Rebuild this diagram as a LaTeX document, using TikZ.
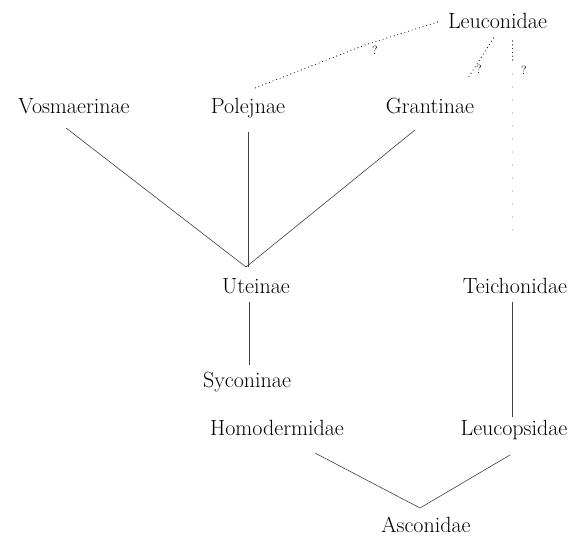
\documentclass[tikz,border=0pt]{standalone}
\usetikzlibrary{calc}
\begin{document}
\begin{tikzpicture}[x=1pt,y=-1pt,
  lbl/.style={anchor=base,inner sep=0pt,font=\fontsize{22}{26}\selectfont},
  qm/.style={inner sep=0pt,font=\fontsize{12}{12}\selectfont,text=black},
  link/.style={draw=black!75,line width=0.6pt},
  dots/.style={draw=black,line width=1.1pt,line cap=round,dash pattern=on 0pt off 3.8pt},
  sparse/.style={draw=black!60,line width=1pt,line cap=round,dash pattern=on 0pt off 13pt}]
\useasboundingbox (0,0) rectangle (577,535);
% labels
\node[lbl] (leu) at (497.5,29) {Leuconidae};
\node[lbl] (vos) at (74,113) {Vosmaerinae};
\node[lbl] (pol) at (248,113) {Polejnae};
\node[lbl] (gra) at (430,113) {Grantinae};
\node[lbl] (ute) at (256,293) {Uteinae};
\node[lbl] (tei) at (515,293) {Teichonidae};
\node[lbl] (syc) at (247,387) {Syconinae};
\node[lbl] (hom) at (277,435) {Homodermidae};
\node[lbl] (lps) at (514,435) {Leucopsidae};
\node[lbl] (asc) at (426,532) {Asconidae};
% convergence points
\coordinate (conv) at ($(ute.base)+(-10,-26)$);
\coordinate (apex) at ($(asc.base)+(-6,-24)$);
% solid connectors
\draw[link] ($(vos.base)+(-8,15)$) -- (conv);
\draw[link] ($(pol.base)+(0,19)$) -- (pol.base |- conv);
\draw[link] ($(gra.base)+(-15,17)$) -- (conv);
\draw[link] ($(ute.base)+(-7,9)$) -- ($(syc.base)+(2,-22)$);
\draw[link] ($(tei.base)+(-3,9)$) -- ($(lps.base)+(-2,-18)$);
\draw[link] ($(hom.base)+(38,18)$) -- (apex);
\draw[link] ($(lps.base)+(-4,20)$) -- (apex);
% dotted connectors from Leuconidae
\draw[dots] ($(leu.base)+(-60,-7)$) -- (365,45) -- ($(pol.base)+(7,-25)$);
\draw[dots] ($(leu.base)+(-4,9)$) -- ($(gra.base)+(38,-35)$);
\draw[dots] ($(leu.base)+(15,12)$) -- ($(leu.base)+(15,33)$);
\draw[sparse] ($(leu.base)+(15,45)$) -- ($(leu.base)+(15,211)$);
% question marks
\node[qm] (q1) at (375,50) {?};
\node[qm] (q2) at (479,69) {?};
\node[qm] (q3) at (524,70) {?};
\end{tikzpicture}
\end{document}
